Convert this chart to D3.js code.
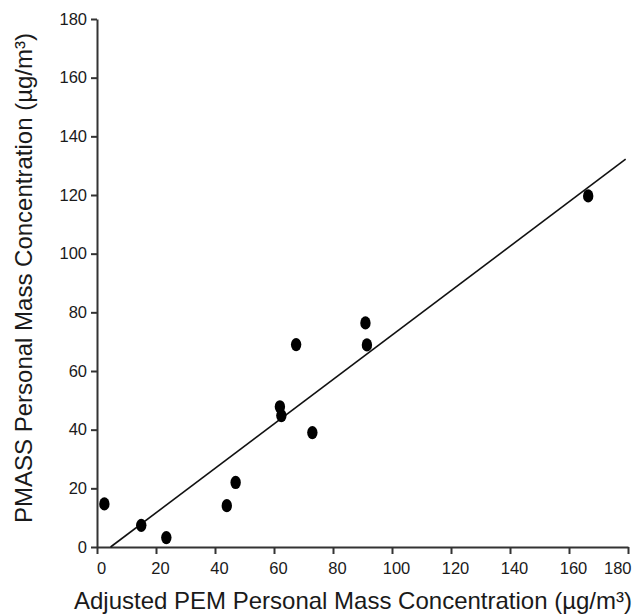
<!DOCTYPE html>
<html lang="en">
<head>
    <meta charset="UTF-8">
    <title>PMASS vs PEM</title>
    <script src="https://d3js.org/d3.v7.min.js"></script>
    <style>
        body, html { margin: 0; padding: 0; background: #fff; }
        text { font-family: "Liberation Sans", Arial, sans-serif; fill: #1a1a1a; }
    </style>
</head>
<body>
    <div id="chart"></div>
    <script>
        // data (µg/m3)
        const pemValues = [2.5, 15, 23.5, 44, 47, 62, 62.5, 67.5, 73, 91, 91.5, 166.5]
        const pmassValues = [14.7, 7.4, 3.2, 14.1, 22, 47.8, 44.8, 69, 39, 76.4, 68.9, 119.7]
        const fitLine = [[4.6, 0], [179.2, 132.2]]
        const xTicks = [0, 20, 40, 60, 80, 100, 120, 140, 160, 180]
        const yTicks = [0, 20, 40, 60, 80, 100, 120, 140, 160, 180]

        const width = 633, height = 615
        const margin = { left: 97, right: 5, top: 19, bottom: 68 }

        const svg = d3.select("#chart").append("svg")
            .attr("width", width)
            .attr("height", height)

        const x = d3.scaleLinear().domain([0, 180]).range([margin.left, width - margin.right])
        const y = d3.scaleLinear().domain([0, 180]).range([height - margin.bottom, margin.top])

        // axes
        const xAxis = svg.append("g")
            .attr("transform", `translate(0,${y(0)})`)
            .call(d3.axisBottom(x).tickValues(xTicks).tickSize(7).tickPadding(8).tickSizeOuter(0))
        const yAxis = svg.append("g")
            .attr("transform", `translate(${x(0)},0)`)
            .call(d3.axisLeft(y).tickValues(yTicks).tickSize(6).tickPadding(4).tickSizeOuter(0))

        ;[xAxis, yAxis].forEach(g => {
            g.select(".domain").attr("stroke", "#333").attr("stroke-width", 2)
            g.selectAll(".tick line").attr("stroke", "#333").attr("stroke-width", 2)
            g.selectAll(".tick text").style("font-size", "16.5px").attr("fill", "#1a1a1a")
        })
        xAxis.selectAll(".tick text").attr("dx", 4)
        // last label squeezed in against the right edge
        xAxis.selectAll(".tick text").filter(d => d === 180)
            .attr("text-anchor", "end")
            .attr("dx", 3)

        // regression line
        svg.append("path")
            .datum(fitLine)
            .attr("d", d3.line().x(d => x(d[0])).y(d => y(d[1])))
            .attr("fill", "none")
            .attr("stroke", "#111")
            .attr("stroke-width", 1.6)

        // points
        svg.selectAll(".pt")
            .data(pemValues.map((v, i) => [v, pmassValues[i]]))
            .join("ellipse")
            .attr("class", "pt")
            .attr("cx", d => x(d[0]))
            .attr("cy", d => y(d[1]))
            .attr("rx", 5.2)
            .attr("ry", 6.6)
            .attr("fill", "#000")

        // axis titles
        svg.append("text")
            .attr("x", 353)
            .attr("y", 609)
            .attr("text-anchor", "middle")
            .style("font-size", "24px")
            .text("Adjusted PEM Personal Mass Concentration (µg/m³)")

        svg.append("text")
            .attr("transform", `translate(32,278) rotate(-90)`)
            .attr("text-anchor", "middle")
            .style("font-size", "24px")
            .text("PMASS Personal Mass Concentration (µg/m³)")
    </script>
</body>
</html>
